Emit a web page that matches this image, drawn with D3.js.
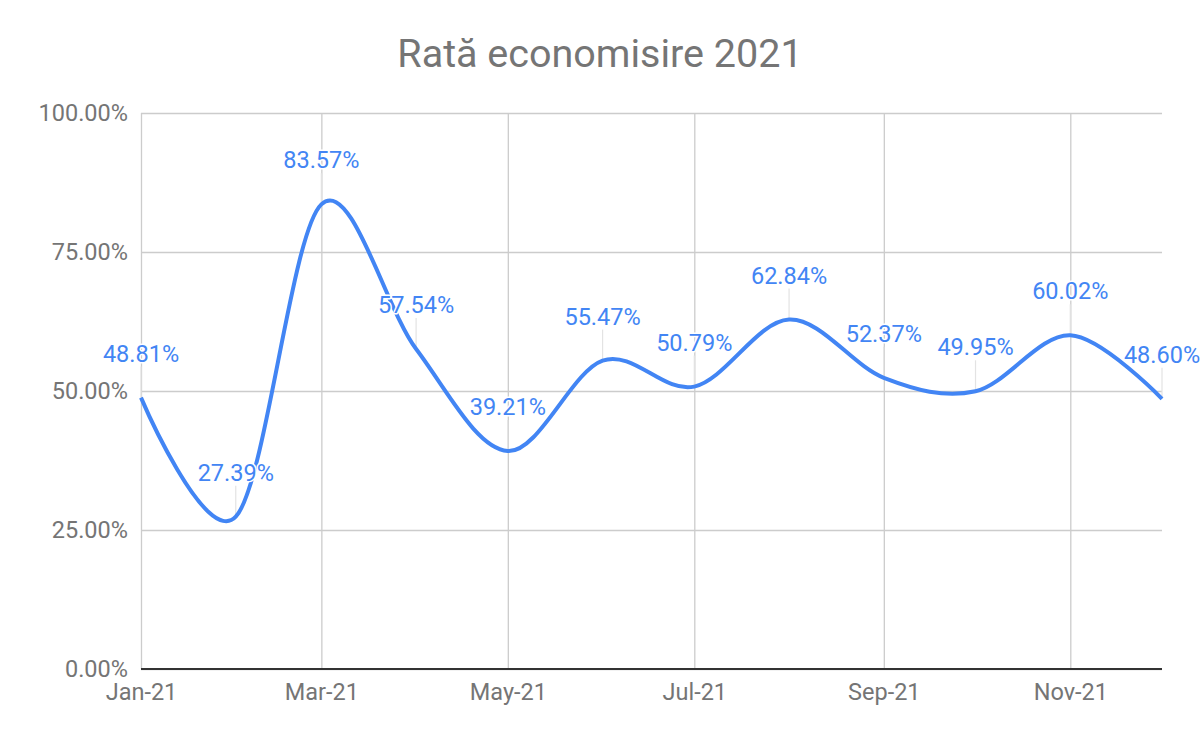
<!DOCTYPE html>
<html>
<head>
<meta charset="utf-8">
<script src="https://cdn.jsdelivr.net/npm/d3@7.9.0/dist/d3.min.js"></script>
<style>
  html, body { margin: 0; padding: 0; background: #fff; }
  svg { display: block; font-family: Roboto, "Noto Sans", sans-serif; }
</style>
</head>
<body>
<svg id="chart"></svg>
<script>
// chart data
const monthLabels = ["Jan-21", "Feb-21", "Mar-21", "Apr-21", "May-21", "Jun-21",
                     "Jul-21", "Aug-21", "Sep-21", "Oct-21", "Nov-21", "Dec-21"];
const savingRates = [48.81, 27.39, 83.57, 57.54, 39.21, 55.47,
                     50.79, 62.84, 52.37, 49.95, 60.02, 48.60];
const yTicks = [0, 25, 50, 75, 100];
const chartTitle = "Rată economisire 2021";

const width = 1200, height = 742;
const margin = { top: 113, right: 38, bottom: 73, left: 141 };

const parseMonth = d3.timeParse("%b-%y");
const data = monthLabels.map((m, i) => ({ date: parseMonth(m), value: savingRates[i] }));

const svg = d3.select("#chart").attr("width", width).attr("height", height);

const x = d3.scaleTime()
    .domain(d3.extent(data, d => d.date))
    .range([margin.left, width - margin.right]);

const y = d3.scaleLinear()
    .domain([0, 100])
    .range([height - margin.bottom, margin.top]);

// title
svg.append("text")
    .attr("x", width / 2)
    .attr("y", 67)
    .attr("text-anchor", "middle")
    .attr("fill", "#757575")
    .style("font-size", "39.5px")
    .text(chartTitle);

// horizontal grid + y labels
const yAxis = d3.axisLeft(y)
    .tickValues(yTicks)
    .tickSize(-(width - margin.left - margin.right))
    .tickPadding(13)
    .tickFormat(d => d.toFixed(2) + "%");

svg.append("g")
    .attr("transform", `translate(${margin.left},0)`)
    .call(yAxis)
    .call(g => g.select(".domain").remove())
    .call(g => g.selectAll(".tick line").attr("stroke", "#cccccc").attr("stroke-width", 1.3))
    .call(g => g.selectAll(".tick text")
        .attr("fill", "#757575")
        .style("font-size", "23.5px")
        .style("font-family", "Roboto, sans-serif"));

// vertical grid + x labels (every other month)
const xTickDates = data.filter((d, i) => i % 2 === 0).map(d => d.date);
const xAxis = d3.axisBottom(x)
    .tickValues(xTickDates)
    .tickSize(-(height - margin.top - margin.bottom))
    .tickPadding(14)
    .tickFormat(d3.timeFormat("%b-%y"));

svg.append("g")
    .attr("transform", `translate(0,${height - margin.bottom})`)
    .call(xAxis)
    .call(g => g.select(".domain").remove())
    .call(g => g.selectAll(".tick line").attr("stroke", "#cccccc").attr("stroke-width", 1.3))
    .call(g => g.selectAll(".tick text")
        .attr("fill", "#757575")
        .style("font-size", "23.5px")
        .style("font-family", "Roboto, sans-serif"));

// baseline
svg.append("line")
    .attr("x1", margin.left)
    .attr("x2", width - margin.right)
    .attr("y1", y(0))
    .attr("y2", y(0))
    .attr("stroke", "#333333")
    .attr("stroke-width", 2);

// leader lines for data labels
svg.append("g")
    .selectAll("line")
    .data(data)
    .join("line")
    .attr("x1", d => x(d.date))
    .attr("x2", d => x(d.date))
    .attr("y1", d => y(d.value))
    .attr("y2", d => y(d.value) - 31)
    .attr("stroke", "#e3e3e3")
    .attr("stroke-width", 1.2);

// smooth line
const line = d3.line()
    .x(d => x(d.date))
    .y(d => y(d.value))
    .curve(d3.curveCatmullRom.alpha(0));

svg.append("path")
    .datum(data)
    .attr("fill", "none")
    .attr("stroke", "#4285f4")
    .attr("stroke-width", 4)
    .attr("stroke-linejoin", "round")
    .attr("d", line);

// data labels
svg.append("g")
    .selectAll("text")
    .data(data)
    .join("text")
    .attr("x", d => x(d.date))
    .attr("y", d => y(d.value) - 36)
    .attr("text-anchor", "middle")
    .attr("fill", "#4285f4")
    .attr("stroke", "#ffffff")
    .attr("stroke-width", 3)
    .attr("stroke-linejoin", "round")
    .style("paint-order", "stroke")
    .style("font-size", "23.5px")
    .text(d => d.value.toFixed(2) + "%");
</script>
</body>
</html>
